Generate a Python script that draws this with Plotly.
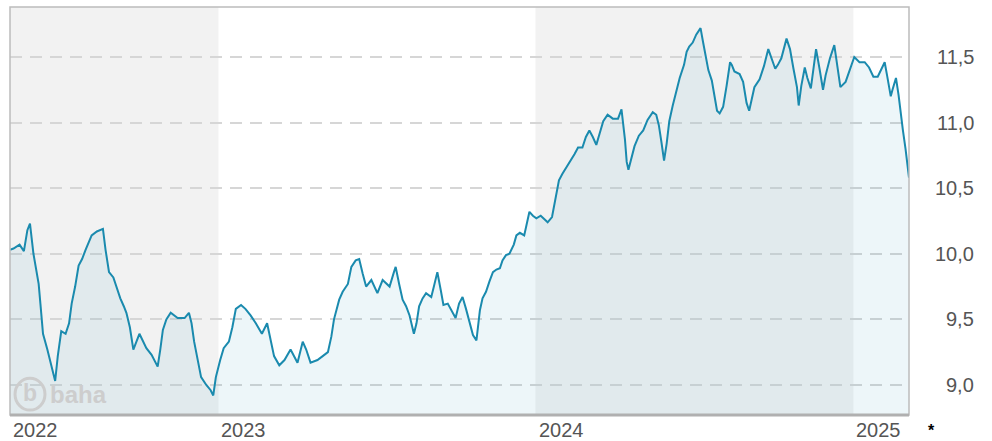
import plotly.graph_objects as go

# Closing prices, 2022-05 .. 2025-03
dates = [
    "2022-05-06", "2022-05-10", "2022-05-17", "2022-05-22", "2022-05-26", "2022-05-29",
    "2022-06-02", "2022-06-08", "2022-06-10", "2022-06-13", "2022-06-18", "2022-06-23",
    "2022-06-27", "2022-06-30", "2022-07-04", "2022-07-09", "2022-07-13", "2022-07-16",
    "2022-07-20", "2022-07-24", "2022-07-28", "2022-08-01", "2022-08-05", "2022-08-08",
    "2022-08-14", "2022-08-21", "2022-08-24", "2022-08-28", "2022-09-02", "2022-09-06",
    "2022-09-10", "2022-09-14", "2022-09-17", "2022-09-21", "2022-09-25", "2022-10-02",
    "2022-10-06", "2022-10-10", "2022-10-16", "2022-10-19", "2022-10-23", "2022-10-26",
    "2022-10-29", "2022-11-02", "2022-11-07", "2022-11-15", "2022-11-23", "2022-11-28",
    "2022-12-01", "2022-12-04", "2022-12-08", "2022-12-12", "2022-12-18", "2022-12-23",
    "2022-12-26", "2022-12-29",
    "2023-01-03", "2023-01-07", "2023-01-13", "2023-01-17", "2023-01-21", "2023-01-27",
    "2023-02-01", "2023-02-07", "2023-02-13", "2023-02-20", "2023-02-26", "2023-03-02",
    "2023-03-06", "2023-03-12", "2023-03-18", "2023-03-25", "2023-03-29", "2023-04-02",
    "2023-04-08", "2023-04-12", "2023-04-17", "2023-04-25", "2023-05-01", "2023-05-07",
    "2023-05-11", "2023-05-14", "2023-05-20", "2023-05-24", "2023-05-30", "2023-06-03",
    "2023-06-08", "2023-06-12", "2023-06-16", "2023-06-20", "2023-06-26", "2023-07-03",
    "2023-07-09", "2023-07-17", "2023-07-22", "2023-07-24", "2023-07-28", "2023-08-01",
    "2023-08-05", "2023-08-09", "2023-08-14", "2023-08-17", "2023-08-20", "2023-08-24",
    "2023-08-28", "2023-09-03", "2023-09-06", "2023-09-10", "2023-09-14", "2023-09-17",
    "2023-09-22", "2023-09-26", "2023-10-01", "2023-10-05", "2023-10-09", "2023-10-13",
    "2023-10-17", "2023-10-21", "2023-10-25", "2023-10-29", "2023-11-01", "2023-11-05",
    "2023-11-09", "2023-11-13", "2023-11-17", "2023-11-21", "2023-11-24", "2023-11-28",
    "2023-12-02", "2023-12-07", "2023-12-10", "2023-12-14", "2023-12-19", "2023-12-23",
    "2023-12-25", "2023-12-29",
    "2024-01-02", "2024-01-07", "2024-01-15", "2024-01-20", "2024-01-24", "2024-01-28",
    "2024-02-01", "2024-02-05", "2024-02-09", "2024-02-15", "2024-02-19", "2024-02-24",
    "2024-02-28", "2024-03-03", "2024-03-07", "2024-03-11", "2024-03-15", "2024-03-19",
    "2024-03-24", "2024-03-30", "2024-04-05", "2024-04-09", "2024-04-13", "2024-04-15",
    "2024-04-17", "2024-04-20", "2024-04-24", "2024-04-29", "2024-05-04", "2024-05-09",
    "2024-05-15", "2024-05-19", "2024-05-22", "2024-05-25", "2024-05-28", "2024-05-31",
    "2024-06-03", "2024-06-07", "2024-06-11", "2024-06-15", "2024-06-20", "2024-06-23",
    "2024-06-26", "2024-06-30", "2024-07-04", "2024-07-09", "2024-07-12", "2024-07-15",
    "2024-07-18", "2024-07-22", "2024-07-25", "2024-07-28", "2024-07-31", "2024-08-04",
    "2024-08-08", "2024-08-12", "2024-08-14", "2024-08-17", "2024-08-23", "2024-08-27",
    "2024-08-31", "2024-09-03", "2024-09-06", "2024-09-09", "2024-09-15", "2024-09-20",
    "2024-09-25", "2024-09-29", "2024-10-03", "2024-10-06", "2024-10-10", "2024-10-16",
    "2024-10-20", "2024-10-24", "2024-10-28", "2024-10-30", "2024-11-02", "2024-11-06",
    "2024-11-09", "2024-11-13", "2024-11-16", "2024-11-19", "2024-11-23", "2024-11-27",
    "2024-11-30", "2024-12-05", "2024-12-10", "2024-12-13", "2024-12-17", "2024-12-23",
    "2024-12-27",
    "2025-01-02", "2025-01-08", "2025-01-14", "2025-01-19", "2025-01-24", "2025-01-29",
    "2025-02-02", "2025-02-06", "2025-02-09", "2025-02-13", "2025-02-15", "2025-02-19",
    "2025-02-22", "2025-02-24", "2025-02-27", "2025-03-02", "2025-03-05", "2025-03-06",
]

prices = [
    10.03, 10.04, 10.07, 10.02, 10.18, 10.23,
    10.00, 9.77, 9.62, 9.39, 9.27, 9.14,
    9.03, 9.22, 9.41, 9.39, 9.47, 9.62,
    9.75, 9.91, 9.96, 10.03, 10.09, 10.14,
    10.17, 10.19, 10.03, 9.86, 9.82, 9.74,
    9.66, 9.60, 9.55, 9.44, 9.27, 9.39,
    9.34, 9.28, 9.23, 9.19, 9.14, 9.27,
    9.42, 9.50, 9.55, 9.51, 9.51, 9.55,
    9.47, 9.33, 9.19, 9.06, 9.00, 8.96,
    8.92, 9.06,
    9.19, 9.28, 9.33, 9.44, 9.58, 9.61,
    9.58, 9.53, 9.47, 9.39, 9.47, 9.34,
    9.22, 9.15, 9.19, 9.27, 9.22, 9.17,
    9.33, 9.27, 9.17, 9.19, 9.22, 9.25,
    9.37, 9.50, 9.65, 9.71, 9.77, 9.90,
    9.95, 9.96, 9.85, 9.75, 9.80, 9.70,
    9.80, 9.75, 9.86, 9.90, 9.77, 9.65,
    9.60, 9.53, 9.39, 9.47, 9.60, 9.66,
    9.70, 9.67, 9.75, 9.86, 9.72, 9.61,
    9.62, 9.57, 9.51, 9.62, 9.67, 9.58,
    9.47, 9.38, 9.34, 9.57, 9.66, 9.71,
    9.79, 9.86, 9.88, 9.89, 9.95, 9.99,
    10.00, 10.07, 10.14, 10.16, 10.14, 10.26,
    10.32, 10.29,
    10.27, 10.29, 10.24, 10.28, 10.41, 10.56,
    10.61, 10.65, 10.70, 10.76, 10.81, 10.81,
    10.89, 10.94, 10.89, 10.83, 10.92, 11.01,
    11.06, 11.03, 11.03, 11.10, 10.87, 10.70,
    10.64, 10.71, 10.82, 10.90, 10.94, 11.02,
    11.08, 11.06, 10.98, 10.85, 10.71, 10.84,
    11.01, 11.13, 11.23, 11.34, 11.44, 11.54,
    11.58, 11.61, 11.67, 11.72, 11.61, 11.49,
    11.40, 11.32, 11.21, 11.09, 11.07, 11.12,
    11.28, 11.46, 11.44, 11.39, 11.37, 11.31,
    11.15, 11.09, 11.18, 11.27, 11.33, 11.43,
    11.56, 11.49, 11.41, 11.44, 11.49, 11.64,
    11.56, 11.41, 11.27, 11.13, 11.28, 11.42,
    11.34, 11.26, 11.41, 11.56, 11.41, 11.25,
    11.36, 11.49, 11.59, 11.46, 11.27, 11.31,
    11.39,
    11.50, 11.46, 11.46, 11.42, 11.35, 11.35,
    11.40, 11.46, 11.35, 11.20, 11.25, 11.34,
    11.21, 11.08, 10.94, 10.80, 10.65, 10.58,
]

# Calendar-year bands, alternately shaded
year_starts = ["2022-01-01", "2023-01-01", "2024-01-01", "2025-01-01", "2026-01-01"]
year_labels = ["2022", "2023", "2024", "2025"]
shaded_years = [True, False, True, False]

# Price axis
y_ticks = [9.0, 9.5, 10.0, 10.5, 11.0, 11.5]
y_tick_labels = ["9,0", "9,5", "10,0", "10,5", "11,0", "11,5"]
y_range = [8.771, 11.881]

LINE = "#1a8aae"
TEXT = "#555555"
FONT = "Liberation Sans, Arial, sans-serif"
MARK = "#cdcdcd"

fig = go.Figure()
fig.add_trace(go.Scatter(
    x=dates, y=prices, mode="lines",
    line=dict(color=LINE, width=2),
    fill="tozeroy", fillcolor="rgba(26,138,174,0.08)",
    hoverinfo="skip", showlegend=False,
))

x_start, x_end = dates[0], dates[-1]

shapes = []
for i, label in enumerate(year_labels):
    if shaded_years[i]:
        shapes.append(dict(
            type="rect", xref="x", yref="paper",
            x0=max(year_starts[i], x_start), x1=min(year_starts[i + 1], x_end),
            y0=0, y1=1, fillcolor="#f2f2f2", line=dict(width=0), layer="below",
        ))

# frame around the plot area
shapes.append(dict(type="rect", xref="paper", yref="paper", x0=0, x1=1, y0=0, y1=1,
                   line=dict(color="#bcbcbc", width=1.5), layer="above"))
shapes.append(dict(type="line", xref="paper", yref="paper", x0=0, x1=1, y0=0, y1=0,
                   line=dict(color="#b0b0b0", width=3), layer="above"))

# watermark logo circle
shapes.append(dict(type="circle", xref="paper", yref="paper",
                   x0=0.0056, x1=0.0389, y0=0.012, y1=0.090,
                   line=dict(color=MARK, width=3), layer="above"))

annotations = []
for v, t in zip(y_ticks, y_tick_labels):
    annotations.append(dict(
        x=1.0745, xref="paper", y=v, yref="y", text=t, showarrow=False,
        xanchor="right", yanchor="middle", font=dict(family=FONT, size=20, color=TEXT),
    ))

for i, label in enumerate(year_labels):
    xpos = max(year_starts[i], x_start)
    annotations.append(dict(
        x=xpos, xref="x", y=-0.037, yref="paper", text=label, showarrow=False,
        xanchor="left", yanchor="middle", xshift=1,
        font=dict(family=FONT, size=20, color=TEXT),
    ))

annotations.append(dict(
    x=1.0245, xref="paper", y=-0.013, yref="paper", text="<b>*</b>", showarrow=False,
    xanchor="center", yanchor="top", font=dict(family=FONT, size=16, color="#000000"),
))

# watermark text
annotations.append(dict(
    x=0.0222, xref="paper", y=0.053, yref="paper", text="<b>b</b>", showarrow=False,
    xanchor="center", yanchor="middle", font=dict(family=FONT, size=23, color=MARK),
))
annotations.append(dict(
    x=0.0425, xref="paper", y=0.051, yref="paper", text="<b>baha</b>", showarrow=False,
    xanchor="left", yanchor="middle", font=dict(family=FONT, size=24, color=MARK),
))

fig.update_layout(
    width=992, height=441,
    margin=dict(l=10, r=83, t=7, b=26),
    paper_bgcolor="#ffffff", plot_bgcolor="#ffffff",
    shapes=shapes, annotations=annotations,
    xaxis=dict(range=[x_start, x_end], type="date", showgrid=False, zeroline=False,
               showticklabels=False, showline=False, fixedrange=True),
    yaxis=dict(range=y_range, tickvals=y_ticks, showticklabels=False, showgrid=True,
               gridcolor="#d6d6d6", gridwidth=1.5, griddash="12px,8px",
               zeroline=False, showline=False, fixedrange=True),
)

fig.write_html("out.html")
